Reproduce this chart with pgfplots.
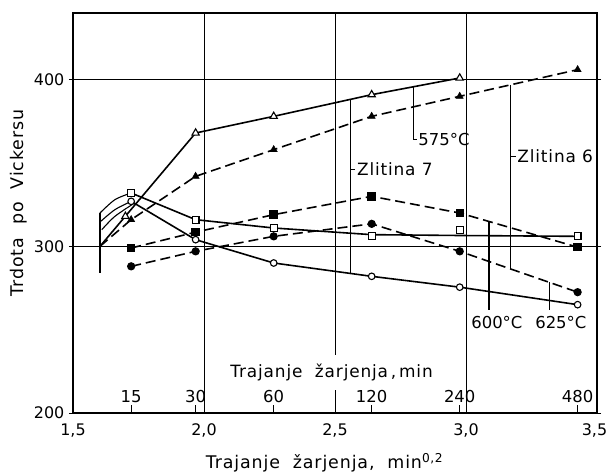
\documentclass[border=0pt]{standalone}
\usepackage{fontspec}
\setmainfont{DejaVu Sans}
\newfontfamily\wide[LetterSpace=5]{DejaVu Sans}
\usepackage{pgfplots}
\pgfplotsset{compat=1.18}
\begin{document}
\fontsize{16.5}{19}\selectfont
\begin{tikzpicture}
\begin{axis}[
  scale only axis, width=524bp, height=400bp,
  xmin=1.5, xmax=3.5, ymin=200, ymax=440,
  xtick={1.5,2,2.5,3,3.5}, ytick={200,300,400},
  xticklabels={{1,5},{2,0},{2,5},{3,0},{3,5\kern5bp}},
  grid=major, grid style={black, line width=0.9bp},
  axis line style={line width=1.3bp},
  xtick style={draw=none},
  ytick style={black, line width=0.9bp},
  tick align=outside, major tick length=4bp,
  /pgf/number format/assume math mode=true,
  xticklabel style={yshift=-1bp, font=\fontsize{16}{18}\selectfont},
  yticklabel style={/pgf/number format/.cd, fixed, precision=0, /tikz/.cd, xshift=1bp, font=\fontsize{16}{18}\selectfont},
  xlabel={\wide\fontsize{17.5}{20}\selectfont Trajanje\ \ žarjenja,\ \ min\textsuperscript{0,2}},
  ylabel={\wide\fontsize{17.5}{20}\selectfont Trdota\ \ po\ \ Vickersu},
  every axis x label/.style={at={(axis description cs:0.48,0)}, anchor=center, yshift=-50bp},
  every axis y label/.style={at={(axis description cs:0,0.525)}, xshift=-54bp, rotate=90, anchor=center},
  clip=false,
]
\coordinate (SW) at (rel axis cs:0,0);
\coordinate (NE) at (rel axis cs:1,1);

% ---- Zlitina 7, 575 C (open triangles, solid)
\addplot[black, line width=1.6bp] coordinates {(1.603,300) (1.968,368) (2.266,378) (2.640,391) (2.976,401)};
\addplot[only marks, mark=triangle*, mark size=4.2bp, mark options={fill=white, draw=black, line width=1.1bp}] coordinates {(1.70,318) (1.968,368) (2.266,378) (2.640,391) (2.976,401)};

% ---- Zlitina 6, 575 C (filled triangles, dashed)
\addplot[black, line width=1.6bp, dash pattern=on 10bp off 5bp] coordinates {(1.603,300) (1.722,316) (1.968,342) (2.266,358) (2.640,378) (2.976,390) (3.426,406)};
\addplot[only marks, mark=triangle*, mark size=4.2bp, mark options={fill=black, draw=black}] coordinates {(1.722,316) (1.968,342) (2.266,358) (2.640,378) (2.976,390) (3.426,406)};

% ---- Zlitina 7, 600 C (open squares, solid)
\addplot[black, line width=1.1bp, smooth] coordinates {(1.603,320) (1.66,328) (1.722,332)};
\addplot[black, line width=1.6bp] coordinates {(1.722,332) (1.968,316) (2.266,311) (2.640,307) (2.976,306.5) (3.426,306)};
\addplot[only marks, mark=square*, mark size=3.4bp, mark options={fill=white, draw=black, line width=1.1bp}] coordinates {(1.722,332) (1.968,316) (2.266,311) (2.640,306) (2.976,310) (3.426,306)};

% ---- Zlitina 6, 600 C (filled squares, dashed)
\addplot[black, line width=1.6bp, dash pattern=on 10bp off 5bp, mark=square*, mark size=3.4bp, mark options={solid, fill=black}] coordinates {(1.722,299) (1.968,308.5) (2.266,319) (2.640,330) (2.976,320) (3.426,299.5)};

% ---- Zlitina 7, 625 C (open circles, solid)
\addplot[black, line width=1.1bp, smooth] coordinates {(1.606,315) (1.66,322) (1.722,327)};
\addplot[black, line width=1.1bp, smooth] coordinates {(1.61,310) (1.66,318) (1.735,326)};
\addplot[black, line width=1.6bp] coordinates {(1.722,327) (1.968,304) (2.266,290) (2.640,282) (2.976,275.5) (3.426,265)};
\addplot[only marks, mark=*, mark size=3.3bp, mark options={fill=white, draw=black, line width=1.1bp}] coordinates {(1.722,327) (1.968,304) (2.266,290) (2.640,282) (2.976,275.5) (3.426,265)};

% ---- Zlitina 6, 625 C (filled circles, dashed)
\addplot[black, line width=1.6bp, dash pattern=on 10bp off 5bp, mark=*, mark size=3.3bp, mark options={solid, fill=black}] coordinates {(1.722,288) (1.968,297) (2.266,306) (2.640,313.5) (2.976,297) (3.426,272.5)};

% ---- start bracket
\draw[line width=1.1bp] (axis cs:1.603,320) -- (axis cs:1.603,284);

% ---- annotations
\draw[line width=1.2bp] (axis cs:2.559,388.2) -- (axis cs:2.559,283.7);
\draw[line width=1.2bp] (axis cs:2.559,346) -- ([xshift=5bp]axis cs:2.559,346) node[right, inner sep=1bp] {\wide\fontsize{17}{20}\selectfont Zlitina 7};
\draw[line width=1.2bp] (axis cs:2.801,395.8) -- (axis cs:2.801,364) -- ([xshift=3bp]axis cs:2.801,364) node[right, inner sep=1bp] {575°C};
\draw[line width=1.2bp] (axis cs:3.171,396.9) -- (axis cs:3.171,286.4);
\draw[line width=1.2bp] (axis cs:3.171,354) -- ([xshift=5bp]axis cs:3.171,354) node[right, inner sep=1bp] {\wide\fontsize{17}{20}\selectfont Zlitina 6};
\draw[line width=1.2bp] (axis cs:3.088,314.9) -- (axis cs:3.088,262);
\node[anchor=north, inner sep=1bp] at (axis cs:3.118,259) {600°C};
\draw[line width=1.2bp] (axis cs:3.318,278.4) -- (axis cs:3.318,262);
\node[anchor=north, inner sep=1bp] at (axis cs:3.362,259) {625°C};

% ---- secondary time scale (minutes)
\node[fill=white, inner xsep=2bp, inner ysep=9bp] at (axis cs:2.487,224.2) {\wide\fontsize{17}{20}\selectfont Trajanje\ \ žarjenja\,,\,min};
\draw[line width=1bp] (axis cs:1.722,200) -- (axis cs:1.722,205) node[above, inner sep=1bp] {15};
\draw[line width=1bp] (axis cs:1.968,200) -- (axis cs:1.968,205) node[above, inner sep=1bp] {30};
\draw[line width=1bp] (axis cs:2.266,200) -- (axis cs:2.266,205) node[above, inner sep=1bp] {60};
\draw[line width=1bp] (axis cs:2.640,200) -- (axis cs:2.640,205) node[above, inner sep=1bp] {120};
\draw[line width=1bp] (axis cs:2.976,200) -- (axis cs:2.976,205) node[above, inner sep=1bp] {240};
\draw[line width=1bp] (axis cs:3.426,200) -- (axis cs:3.426,205) node[above, inner sep=1bp] {480};
\end{axis}
\pgfresetboundingbox
\path[use as bounding box] ([shift={(-73bp,-62bp)}]SW) rectangle ([shift={(9bp,13bp)}]NE);
\end{tikzpicture}
\end{document}
